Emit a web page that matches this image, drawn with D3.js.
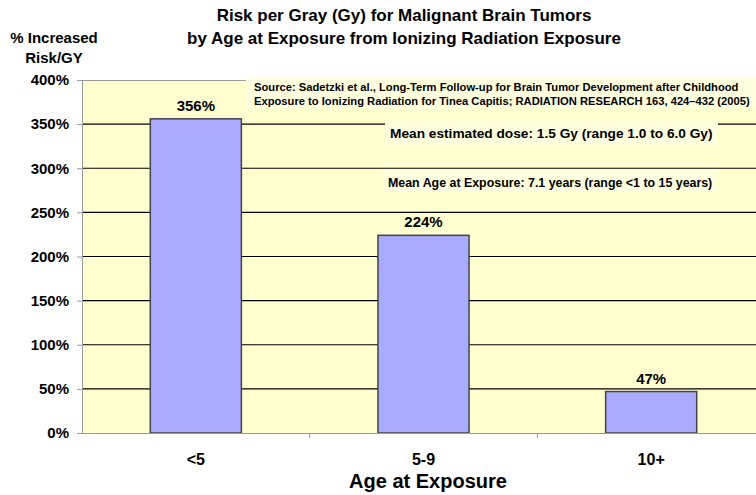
<!DOCTYPE html>
<html><head><meta charset="utf-8">
<script src="https://cdn.jsdelivr.net/npm/d3@7"></script>
<style>body{margin:0;background:#fff}svg text{font-family:"Liberation Sans",Arial,sans-serif;font-weight:bold;fill:#000}</style>
</head><body>
<script>
const categories = ["<5", "5-9", "10+"];
const values = [356, 224, 47];
const valueLabels = ["356%", "224%", "47%"];
const yTicks = [0, 50, 100, 150, 200, 250, 300, 350, 400];
const titleLines = ["Risk per Gray (Gy) for Malignant Brain Tumors", "by Age at Exposure from Ionizing Radiation Exposure"];
const sourceLines = ["Source: Sadetzki et al., Long-Term Follow-up for Brain Tumor Development after Childhood", "Exposure to Ionizing Radiation for Tinea Capitis; RADIATION RESEARCH 163, 424\u2013432 (2005)"];
const note1 = "Mean estimated dose: 1.5 Gy (range 1.0 to 6.0 Gy)";
const note2 = "Mean Age at Exposure: 7.1 years (range <1 to 15 years)";

const W = 756, H = 495;
const m = {left: 82, top: 80, right: -9, bottom: 62};
const svg = d3.select("body").append("svg").attr("width", W).attr("height", H);
const iw = W - m.left - m.right, ih = H - m.top - m.bottom;
const g = svg.append("g").attr("transform", `translate(${m.left},${m.top})`);

const x = d3.scaleBand().domain(categories).range([0, iw]).paddingInner(0.6).paddingOuter(0.3);
const xCat = d3.scaleBand().domain(categories).range([0, iw]);
const y = d3.scaleLinear().domain([0, 400]).range([ih, 0]);

g.append("rect").attr("width", iw).attr("height", ih).attr("fill", "#ffffd0");

g.selectAll(".grid").data(yTicks.filter(d => d > 0 && d < 400)).join("line")
  .attr("x1", 0).attr("x2", iw).attr("y1", d => y(d)).attr("y2", d => y(d))
  .attr("stroke", "#000").attr("stroke-width", 1.2);
g.append("line").attr("x1", 0).attr("x2", iw).attr("y1", 0.5).attr("y2", 0.5).attr("stroke", "#999");

g.selectAll(".bar").data(values).join("rect")
  .attr("x", (d, i) => x(categories[i])).attr("width", x.bandwidth())
  .attr("y", d => y(d)).attr("height", d => ih - y(d))
  .attr("fill", "#aaaaff").attr("stroke", "#444").attr("stroke-width", 1.5);

g.selectAll(".vl").data(values).join("text")
  .attr("x", (d, i) => x(categories[i]) + x.bandwidth() / 2)
  .attr("y", d => y(d) - 8).attr("text-anchor", "middle").attr("font-size", 15)
  .text((d, i) => valueLabels[i]);

// y axis
const ya = g.append("g").call(d3.axisLeft(y).tickValues(yTicks).tickFormat(d => d + "%").tickSize(5).tickPadding(8));
ya.select(".domain").attr("stroke", "#999");
ya.selectAll(".tick line").attr("stroke", "#999");
ya.selectAll("text").attr("font-size", 15).attr("font-family", "Liberation Sans, Arial").attr("font-weight", "bold").attr("fill", "#000");

// x axis
const xa = g.append("g").attr("transform", `translate(0,${ih})`).call(d3.axisBottom(xCat).tickSize(0).tickPadding(21));
xa.select(".domain").attr("stroke", "#999");
xa.selectAll("text").attr("font-size", 16).attr("font-family", "Liberation Sans, Arial").attr("font-weight", "bold").attr("fill", "#000");
g.selectAll(".xt").data(categories.slice(1)).join("line")
  .attr("x1", d => xCat(d)).attr("x2", d => xCat(d)).attr("y1", ih).attr("y2", ih + 5).attr("stroke", "#999");

// titles
svg.selectAll(".title").data(titleLines).join("text")
  .attr("x", 404).attr("y", (d, i) => 21 + i * 23).attr("text-anchor", "middle").attr("font-size", 17).text(d => d);
svg.append("text").attr("x", 54).attr("y", 43).attr("text-anchor", "middle").attr("font-size", 15).text("% Increased");
svg.append("text").attr("x", 54).attr("y", 63).attr("text-anchor", "middle").attr("font-size", 15).text("Risk/GY");
svg.append("text").attr("x", 428).attr("y", 488).attr("text-anchor", "middle").attr("font-size", 20).text("Age at Exposure");

// annotation boxes
svg.append("rect").attr("x", 246).attr("y", 77).attr("width", 515).attr("height", 31).attr("fill", "#ffffe0");
svg.selectAll(".src").data(sourceLines).join("text")
  .attr("x", 254).attr("y", (d, i) => 91 + i * 14).attr("font-size", 11.2).text(d => d);
svg.append("rect").attr("x", 385).attr("y", 121).attr("width", 333).attr("height", 24).attr("fill", "#ffffe0");
svg.append("text").attr("x", 390).attr("y", 138).attr("font-size", 13.7).text(note1);
svg.append("rect").attr("x", 384).attr("y", 170).attr("width", 334).attr("height", 22).attr("fill", "#ffffe0");
svg.append("text").attr("x", 388).attr("y", 187).attr("font-size", 12.4).text(note2);
</script>
</body></html>
